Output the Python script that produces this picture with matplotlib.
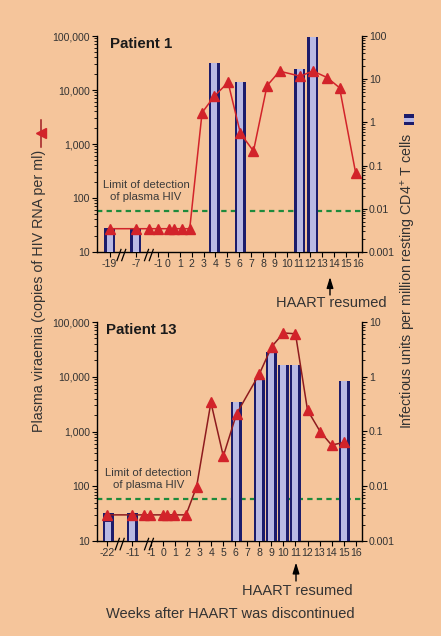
import matplotlib
matplotlib.use("Agg")
import matplotlib.pyplot as plt
from matplotlib.lines import Line2D
from matplotlib.patches import Rectangle, FancyArrowPatch
import matplotlib.transforms as mtransforms
from matplotlib.ticker import LogLocator, NullFormatter, FixedLocator, FixedFormatter

plt.rcParams['font.family'] = ['Liberation Sans', 'DejaVu Sans']
plt.rcParams['mathtext.fontset'] = 'custom'
plt.rcParams['mathtext.rm'] = 'Liberation Sans'

# ---------------- data ----------------
# Patient 1 (axis position units; negative weeks compressed by axis breaks)
p1_tick_pos = [-4.92, -2.70, -0.84] + list(range(0, 17))
p1_tick_lab = ['-19', '-7', '-1'] + [str(i) for i in range(0, 17)]
p1_rna_x = [-4.92, -2.70, -1.64, -0.84, 0.06, 0.48, 1.18, 1.83, 2.87, 3.9,
            5.06, 6.1, 7.2, 8.34, 9.4, 11.15, 12.2, 13.4, 14.45, 15.8]
p1_rna = [27, 27, 27, 27, 27, 27, 27, 27, 3800, 7700,
          13800, 1570, 740, 12000, 22300, 18000, 22500, 17000, 11000, 295]
p1_iu_x = [-4.92, -2.70, 3.9, 6.1, 11.1, 12.2]
p1_iu = [0.0025, 0.0025, 24, 8.5, 17.6, 96]
p1_breaks = [-3.93, -1.61]

# Patient 13
p13_tick_pos = [-4.64, -2.56, -0.97] + list(range(0, 17))
p13_tick_lab = ['-22', '-11', '-1'] + [str(i) for i in range(0, 17)]
p13_rna_x = [-4.64, -2.56, -1.61, -1.11, -0.05, 0.28, 0.92, 1.9, 2.78, 3.97,
             5.0, 6.1, 8.0, 9.03, 10.0, 11.0, 12.0, 13.06, 14.0, 15.0]
p13_rna = [30, 30, 30, 30, 30, 30, 30, 30, 98, 3400,
           355, 2100, 11300, 35600, 63000, 61000, 2460, 990, 565, 630]
p13_iu_x = [-4.56, -2.58, 6.08, 8.0, 9.0, 10.0, 11.0, 15.06]
p13_iu = [0.0022, 0.0023, 0.34, 0.86, 2.8, 1.63, 1.63, 0.84]
p13_breaks = [-3.61, -1.18]

detection_limit = 58
left_ticks = [10, 100, 1000, 10000, 100000]
left_labels = ['10', '100', '1,000', '10,000', '100,000']
p1_right_ticks = [0.001, 0.01, 0.1, 1, 10, 100]
p1_right_labels = ['0.001', '0.01', '0.1', '1', '10', '100']
p13_right_ticks = [0.001, 0.01, 0.1, 1, 10]
p13_right_labels = ['0.001', '0.01', '0.1', '1', '10']

# ---------------- style ----------------
BG = '#F5C59B'
NAVY = '#1c1c6b'
LIGHT = '#b9b9e3'
RED = '#d2232a'
GREEN = '#1e8a3c'
TXT = '#333333'
W, H = 441, 636

fig = plt.figure(figsize=(W / 100, H / 100), dpi=100, facecolor=BG)


def fx(px):
    return px / W


def fy(py):
    return 1 - py / H


def panel(rect, xlim, tick_pos, tick_lab, rna_x, rna, iu_x, iu, rlim,
          rticks, rlabels, breaks, line_color, title, title_xy, lim_xy):
    ax = fig.add_axes(rect)
    ax.set_facecolor('none')
    ax.set_yscale('log')
    ax.set_ylim(10, 100000)
    ax.set_xlim(*xlim)
    for s in ['top', 'right']:
        ax.spines[s].set_visible(False)
    ax.axhline(detection_limit, color=GREEN, lw=1.6, ls=(0, (2.4, 1.9)), zorder=1)

    axb = ax.twinx()
    axb.set_yscale('log')
    axb.set_ylim(*rlim)
    for s in ['top', 'left', 'bottom']:
        axb.spines[s].set_visible(False)
    axb.bar(iu_x, iu, width=0.92, bottom=rlim[0], color=NAVY, linewidth=0)
    axb.bar(iu_x, [v - rlim[0] for v in iu], width=0.5, bottom=rlim[0],
            color=LIGHT, linewidth=0)

    axt = ax.twinx()
    axt.set_yscale('log')
    axt.set_ylim(10, 100000)
    axt.axis('off')
    axt.plot(rna_x, rna, color=line_color, lw=1.1, zorder=3, clip_on=False)
    axt.plot(rna_x, rna, ls='none', marker='^', ms=6.6, color=RED,
             mec=RED, zorder=4, clip_on=False)

    for a in (ax, axb):
        for s in a.spines.values():
            s.set_linewidth(1.0)
    ax.yaxis.set_major_locator(FixedLocator(left_ticks))
    ax.yaxis.set_major_formatter(FixedFormatter(left_labels))
    ax.yaxis.set_minor_locator(LogLocator(base=10, subs=range(2, 10), numticks=20))
    ax.yaxis.set_minor_formatter(NullFormatter())
    axb.yaxis.set_major_locator(FixedLocator(rticks))
    axb.yaxis.set_major_formatter(FixedFormatter(rlabels))
    axb.yaxis.set_minor_locator(LogLocator(base=10, subs=range(2, 10), numticks=20))
    axb.yaxis.set_minor_formatter(NullFormatter())
    ax.set_xticks(tick_pos)
    ax.set_xticklabels(tick_lab)
    ax.tick_params(axis='both', which='major', length=3.5, width=0.8,
                   labelsize=7.6, labelcolor=TXT, pad=1.5)
    ax.tick_params(axis='y', which='minor', length=2, width=0.6)
    axb.tick_params(axis='y', which='major', length=3.5, width=0.8,
                    labelsize=7.6, labelcolor=TXT, pad=1.5)
    axb.tick_params(axis='y', which='minor', length=2, width=0.6)

    # axis break marks
    tr = mtransforms.blended_transform_factory(ax.transData, ax.transAxes)
    for c in breaks:
        for off in (-0.2, 0.2):
            ax.add_line(Line2D([c + off - 0.17, c + off + 0.17], [-0.04, 0.012],
                               transform=tr, color='black', lw=0.9, clip_on=False))

    fig.text(fx(title_xy[0]), fy(title_xy[1]), title, fontsize=10.8,
             fontweight='bold', color='#1a1a1a', ha='left', va='center')
    fig.text(fx(lim_xy[0]), fy(lim_xy[1]), 'Limit of detection\nof plasma HIV',
             fontsize=8.2, color='#3a3a3a', ha='center', va='center',
             linespacing=1.25)
    return ax


panel([fx(97), fy(252), fx(362) - fx(97), fy(36) - fy(252)], (-5.98, 16.34),
      p1_tick_pos, p1_tick_lab, p1_rna_x, p1_rna, p1_iu_x, p1_iu,
      (0.001, 100), p1_right_ticks, p1_right_labels, p1_breaks, RED,
      'Patient 1', (110, 44), (146, 191.5))

panel([fx(97), fy(541), fx(362) - fx(97), fy(322) - fy(541)], (-5.5, 16.53),
      p13_tick_pos, p13_tick_lab, p13_rna_x, p13_rna, p13_iu_x, p13_iu,
      (0.001, 10), p13_right_ticks, p13_right_labels, p13_breaks, '#8e1b1e',
      'Patient 13', (106, 330), (148.7, 479))

# arrows and annotations
for (x, tip, base, ty) in [(330, 277, 295, 303), (296, 562.5, 581, 591)]:
    fig.add_artist(FancyArrowPatch(
        (fx(x), fy(base)), (fx(x), fy(tip)), transform=fig.transFigure,
        arrowstyle='-|>,head_length=0.65,head_width=0.2', color='black', lw=1.0,
        mutation_scale=10, shrinkA=0, shrinkB=0))
    fig.text(fx(x + 1.5), fy(ty), 'HAART resumed', fontsize=10.5, color=TXT,
             ha='center', va='center')

fig.text(fx(230), fy(614), 'Weeks after HAART was discontinued', fontsize=10.5,
         color=TXT, ha='center', va='center')

# y-axis labels with legend glyphs
fig.text(fx(39), fy(150), 'Plasma viraemia (copies of HIV RNA per ml)',
         rotation=90, fontsize=10.3, color=TXT, ha='center', va='top')
fig.add_artist(Line2D([fx(40.7), fx(40.7)], [fy(120), fy(147)],
                      transform=fig.transFigure, color='#a11d24', lw=1.1))
fig.add_artist(Line2D([fx(40.7)], [fy(132.5)], transform=fig.transFigure,
                      marker='<', ms=6.5, color=RED, ls='none'))

fig.text(fx(409), fy(133), r'Infectious units per million resting CD4$^{+}$ T cells',
         rotation=90, fontsize=10.3, color=TXT, ha='center', va='top')
fig.add_artist(Rectangle((fx(404), fy(125)), fx(10), 11 / H,
                         transform=fig.transFigure, color=NAVY, lw=0))
fig.add_artist(Rectangle((fx(404), fy(121.5)), fx(10), 4 / H,
                         transform=fig.transFigure, color=LIGHT, lw=0))

fig.savefig('out.png', dpi=100, facecolor=BG)
